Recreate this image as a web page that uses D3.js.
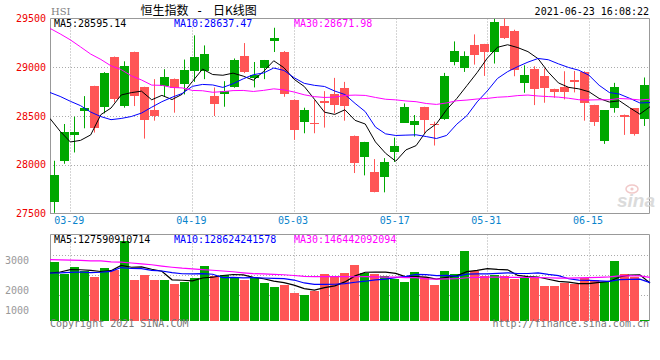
<!DOCTYPE html>
<html><head><meta charset="utf-8">
<script src="https://cdn.jsdelivr.net/npm/d3@7"></script>
<style>html,body{margin:0;padding:0;background:#fff;} svg{display:block;}</style>
</head><body><svg id="c" width="660" height="360"></svg>
<script>
// ---------- data ----------
const dates = ["03-25","03-26","03-29","03-30","03-31","04-01","04-07","04-08","04-09","04-12",
"04-13","04-14","04-15","04-16","04-19","04-20","04-21","04-22","04-23","04-26",
"04-27","04-28","04-29","04-30","05-03","05-04","05-05","05-06","05-07","05-10",
"05-11","05-12","05-13","05-14","05-17","05-18","05-20","05-21","05-24","05-25",
"05-26","05-27","05-28","05-31","06-01","06-02","06-03","06-04","06-07","06-08",
"06-09","06-10","06-11","06-15","06-16","06-17","06-18","06-21","06-22","06-23"];
const open  = [27625,28041,28305,28551,28806,28592,29102,28602,29153,28796,
28561,28806,28881,28830,28959,28959,28704,28721,28799,29112,
28895,28993,29268,29156,28663,28432,28425,28653,28721,28783,
28296,28075,27929,27870,28125,28432,28408,28589,28420,28466,
29054,28993,29224,29235,29156,29418,29367,28840,28987,28908,
28776,28793,28867,28952,28612,28238,28585,28510,28579,28466];
const high  = [28041,28418,28493,28704,28810,28950,29110,29061,29160,28800,
28878,28980,28885,29079,29327,29224,28793,28857,29090,29248,
29054,29075,29405,29166,28670,28585,28663,28755,28891,28850,
28300,28235,28058,28068,28279,28629,28510,28595,28442,28942,
29265,29163,29337,29240,29497,29520,29385,29020,29010,28987,
28780,28959,28962,28959,28615,28561,28840,28515,28582,28895];
const low   = [27507,28010,28126,28374,28330,28527,28640,28585,28602,28268,
28452,28697,28534,28721,28850,28878,28500,28595,28790,28940,
28793,28878,29156,28697,28255,28323,28323,28381,28527,28452,
27915,27891,27717,27717,28028,28430,28289,28323,28197,28460,
29020,28952,29027,28911,29038,29290,28908,28738,28612,28636,
28687,28670,28742,28452,28398,28214,28534,28306,28299,28398];
const close = [27900,28336,28338,28578,28378,28939,28675,29008,28699,28453,
28497,28901,28793,28970,29106,29136,28622,28755,29079,28953,
28925,29072,29303,28725,28358,28557,28418,28637,28611,28596,
28014,28231,27719,28028,28190,28594,28450,28458,28412,28911,
29166,29113,29124,29152,29468,29297,28966,28918,28787,28781,
28743,28739,28842,28639,28437,28559,28801,28489,28310,28817];
// closes of the 29 sessions before 03-25 (for the moving averages)
const priorClose = [30038,30173,30746,30584,30595,30644,30156,30632,29718,30074,
28980,29452,29095,29880,29236,29098,28540,28773,28907,29236,
28739,28833,29027,29034,29405,28991,28885,28497,28098];
// turnover, 亿 HKD
const volume = [1970,1576,1801,1667,1475,1778,1710,2677,1374,1542,
1374,1374,1239,1306,1441,1845,1508,1532,1465,1374,
1441,1273,1138,1219,936,869,1003,1566,1508,1609,
1879,1609,1576,1508,1407,1306,1643,1475,1205,1677,
1576,2350,1677,1508,1542,1508,1407,1475,1441,1162,
1162,1273,1239,1441,1374,1306,2013,1576,1475,10];
const priorVolume = [1900,2050,1850,2000,1937,2600,2900,2300,2500,2200,
2700,2400,2300,2150,2450,2250,2252,2250,2450,2300,
1500,1650,1550,1700,1645,1405,1400,1690,1580];
const priceTicks = [27500,28000,28500,29000,29500];
const priceGrid = [28000,28500,29000];
const dateTicks = ["03-29","04-19","05-03","05-17","05-31","06-15"];
const volTickLabels = [3000,2000,1000];
const maPeriods = [5,10,30];
const maColors = ["#000000","#0000ff","#ff00ff"];
const priceMaText = ["MA5:28595.14","MA10:28637.47","MA30:28671.98"];
const volMaText = ["MA5:127590910714","MA10:128624241578","MA30:146442092094"];
const titleText = "恒生指数";
const titleText2 = "日K线图";
const codeText = "HSI";
const timeText = "2021-06-23 16:08:22";

// ---------- layout ----------
const L = 50, R = 650;
const pTop = 18.5, pBot = 213.5;
const vTop = 234.5, vBot = 321;
const UP = "#00a800", DOWN = "#ff5555";
const GRID = "#aaaaaa", BORDER = "#999999";
const mono = "'DejaVu Sans Mono', monospace";

const svg = d3.select("#c");
const xb = d3.scaleBand().domain(dates).range([L, R]).padding(0);
const xp = d3.scalePoint().domain(dates).range([L, R]);
const yp = d3.scaleLinear().domain([27500, 29500]).range([pBot, pTop]);
const yv = d3.scaleLinear().domain([0, 2900]).range([vBot, vTop]);
const yvLab = d3.scaleLinear().domain([1000, 2000, 3000]).range([310.3, 290.3, 260.3]);

function movingAvg(prior, vals, n) {
  const all = prior.concat(vals), P = prior.length;
  return vals.map((_, i) => d3.mean(all.slice(P + i - n + 1, P + i + 1)));
}
const isUp = close.map((c, i) => c >= open[i]);

svg.append("defs").append("clipPath").attr("id", "pclip")
  .append("rect").attr("x", L).attr("y", pTop).attr("width", R - L).attr("height", pBot - pTop);

// ---------- price panel ----------
const gp = svg.append("g");
// grid
gp.selectAll(".hg").data(priceGrid).join("line")
  .attr("x1", L).attr("x2", R).attr("y1", d => Math.round(yp(d)) + 0.5).attr("y2", d => Math.round(yp(d)) + 0.5)
  .attr("stroke", GRID).attr("stroke-dasharray", "1,2");
gp.selectAll(".vg").data(dateTicks).join("line")
  .attr("x1", d => Math.round(xp(d)) + 0.5).attr("x2", d => Math.round(xp(d)) + 0.5)
  .attr("y1", pTop).attr("y2", pBot)
  .attr("stroke", GRID).attr("stroke-dasharray", "1,2");
// border
gp.append("path").attr("d", `M${L+0.5},${pBot} V${pTop} H${R-0.5} V${pBot} H${L}`)
  .attr("fill", "none").attr("stroke", BORDER);

// watermark
const wm = svg.append("g").attr("opacity", 0.9);
wm.append("text").attr("x", 617).attr("y", 207).text("sina")
  .attr("font-family", "'Liberation Sans', Arial, sans-serif").attr("font-style", "italic")
  .attr("font-weight", "bold").attr("font-size", 19).attr("fill", "#d8d8d8");
wm.append("ellipse").attr("cx", 632).attr("cy", 189).attr("rx", 6).attr("ry", 4)
  .attr("fill", "none").attr("stroke", "#f0c4c4").attr("stroke-width", 1.5);
wm.append("circle").attr("cx", 632).attr("cy", 189).attr("r", 1.6).attr("fill", "#f0c4c4");

// candles
const gc = gp.append("g").attr("clip-path", "url(#pclip)");
gc.selectAll(".wick").data(dates).join("line")
  .attr("x1", d => xb(d) + 4.5).attr("x2", d => xb(d) + 4.5)
  .attr("y1", (d, i) => yp(high[i])).attr("y2", (d, i) => yp(low[i]))
  .attr("stroke", (d, i) => isUp[i] ? UP : DOWN).attr("stroke-width", 1);
gc.selectAll(".body").data(dates).join("rect")
  .attr("x", d => xb(d)).attr("width", xb.bandwidth() - 1)
  .attr("y", (d, i) => Math.round(yp(Math.max(open[i], close[i]))))
  .attr("height", (d, i) => Math.max(1, Math.round(Math.abs(yp(open[i]) - yp(close[i])))))
  .attr("fill", (d, i) => isUp[i] ? UP : DOWN).attr("shape-rendering", "crispEdges");

// price MAs
maPeriods.forEach((n, k) => {
  const ma = movingAvg(priorClose, close, n);
  gc.append("path").datum(ma)
    .attr("d", d3.line().x((d, i) => xp(dates[i])).y(d => yp(d)))
    .attr("fill", "none").attr("stroke", maColors[k]).attr("stroke-width", 1);
});

// price labels
svg.selectAll(".pl").data(priceTicks).join("text")
  .attr("x", 46).attr("y", d => yp(d)).attr("dy", "0.35em").attr("text-anchor", "end")
  .attr("font-family", mono).attr("font-size", 10).attr("fill", "#ee0000").text(d => d);
svg.selectAll(".dl").data(dateTicks).join("text")
  .attr("x", d => xp(d) - 1).attr("y", 224).attr("text-anchor", "middle")
  .attr("font-family", mono).attr("font-size", 10).attr("fill", "#0a84cc").text(d => d);

// header
svg.append("text").attr("x", 51).attr("y", 15).text(codeText)
  .attr("font-family", "'DejaVu Serif', serif").attr("font-size", 10).attr("fill", "#808080");
svg.append("text").attr("x", 140.5).attr("y", 15).text(titleText)
  .attr("font-family", "'Noto Sans CJK SC', sans-serif").attr("font-size", 12).attr("fill", "#000");
svg.append("text").attr("x", 196).attr("y", 15).text("-")
  .attr("font-family", mono).attr("font-size", 12).attr("fill", "#000");
svg.append("text").attr("x", 213).attr("y", 15).text(titleText2)
  .attr("font-family", "'Noto Sans CJK SC', sans-serif").attr("font-size", 12).attr("fill", "#000");
svg.append("text").attr("x", 649).attr("y", 15).attr("text-anchor", "end").text(timeText)
  .attr("font-family", mono).attr("font-size", 10).attr("fill", "#000");
const maX = [54, 174, 294];
priceMaText.forEach((t, k) => svg.append("text").attr("x", maX[k]).attr("y", 27).text(t)
  .attr("font-family", mono).attr("font-size", 10).attr("fill", maColors[k]));

// ---------- volume panel ----------
const gv = svg.append("g");
[21, 41, 61].forEach(off => gv.append("line")
  .attr("x1", L).attr("x2", R).attr("y1", vTop + off).attr("y2", vTop + off)
  .attr("stroke", GRID).attr("stroke-dasharray", "1,2"));
gv.selectAll(".vvg").data(dateTicks).join("line")
  .attr("x1", d => Math.round(xp(d)) + 0.5).attr("x2", d => Math.round(xp(d)) + 0.5)
  .attr("y1", vTop).attr("y2", vBot)
  .attr("stroke", GRID).attr("stroke-dasharray", "1,2");
gv.append("path").attr("d", `M${L+0.5},${vBot} V${vTop} H${R-0.5} V${vBot}`)
  .attr("fill", "none").attr("stroke", BORDER);
gv.selectAll(".vb").data(dates).join("rect")
  .attr("x", d => xb(d)).attr("width", xb.bandwidth() - 1)
  .attr("y", (d, i) => Math.min(vBot - 1, Math.round(yv(volume[i]))))
  .attr("height", (d, i) => Math.max(1, vBot - Math.round(yv(volume[i]))))
  .attr("fill", (d, i) => isUp[i] ? UP : DOWN).attr("shape-rendering", "crispEdges");
maPeriods.forEach((n, k) => {
  const ma = movingAvg(priorVolume, volume, n);
  gv.append("path").datum(ma)
    .attr("d", d3.line().x((d, i) => xp(dates[i])).y(d => yv(d)))
    .attr("fill", "none").attr("stroke", maColors[k]).attr("stroke-width", 1.2);
});
volMaText.forEach((t, k) => svg.append("text").attr("x", maX[k]).attr("y", 243).text(t)
  .attr("font-family", mono).attr("font-size", 10).attr("fill", maColors[k]));
svg.selectAll(".vl").data(volTickLabels).join("text")
  .attr("x", 29).attr("y", d => yvLab(d)).attr("dy", "0.35em").attr("text-anchor", "end")
  .attr("font-family", mono).attr("font-size", 10).attr("fill", "#999").text(d => d);

// footer
svg.append("text").attr("x", 50).attr("y", 327).text("Copyright 2021 SINA.COM")
  .attr("font-family", mono).attr("font-size", 10).attr("fill", "#777");
svg.append("text").attr("x", 649).attr("y", 327).attr("text-anchor", "end").text("http://finance.sina.com.cn")
  .attr("font-family", mono).attr("font-size", 10).attr("fill", "#777");
</script></body></html>
